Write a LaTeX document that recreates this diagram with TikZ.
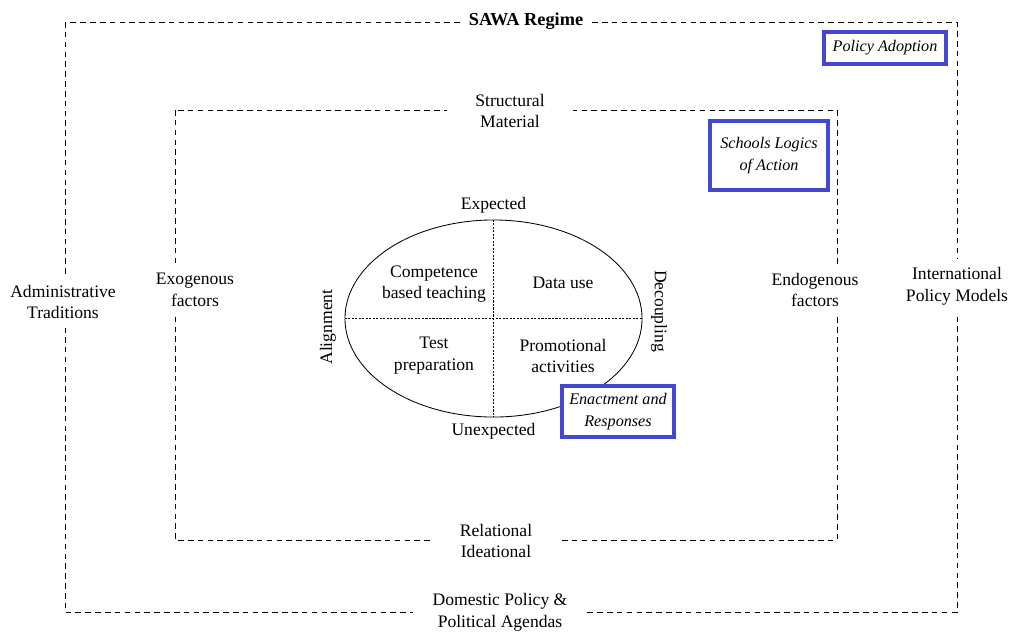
\documentclass[tikz,border=0pt]{standalone}
\usepackage{fontspec}
\setmainfont{Liberation Serif}
\usepackage{xcolor}
\usetikzlibrary{shapes.geometric, positioning}
\definecolor{frameblue}{RGB}{68,72,208}

\begin{document}
\begin{tikzpicture}[
    x=0.025cm, y=-0.025cm,
    font=\fontsize{12.5}{15.5}\selectfont,
    frame/.style={dashed, dash pattern=on 4pt off 3pt, line width=0.6pt},
    split/.style={dash pattern=on 1.5pt off 1pt, line width=0.5pt},
    lbl/.style={fill=white, align=center, inner xsep=6pt, inner ysep=2pt},
    txt/.style={align=center, inner sep=1pt},
    tag/.style={rectangle, draw=frameblue, line width=2.6pt, fill=white, align=center, font=\fontsize{11.5}{15.5}\selectfont\itshape},
]
    \useasboundingbox (0,0) rectangle (1011,633);

    % SAWA regime frame
    \draw[frame] (65,22) rectangle (957,612);
    \node[lbl, font=\fontsize{13}{15.5}\selectfont\bfseries] (sawa) at (526,21) {SAWA Regime};
    \node[lbl, inner xsep=14pt] (domestic) at (500,612) {Domestic Policy \&\\Political Agendas};
    \node[lbl, inner ysep=6pt] (admin) at (63,302) {Administrative\\Traditions};
    \node[lbl, inner ysep=6pt] (intl) at (957,286) {International\\Policy Models};

    % schools frame
    \draw[frame] (175,110) rectangle (837,540);
    \node[lbl, inner xsep=20pt] (structural) at (510,111) {Structural\\Material};
    \node[lbl, inner xsep=20pt] (relational) at (496,541) {Relational\\Ideational};
    \node[lbl, inner ysep=6pt] (exo) at (195,290) {Exogenous\\factors};
    \node[lbl, inner ysep=6pt] (endo) at (815,290) {Endogenous\\factors};

    % responses
    \node[ellipse, draw, line width=0.6pt, minimum width=7.425cm, minimum height=4.925cm] (oval) at (493.5,318.5) {};
    \draw[split] (oval.north) -- (oval.south);
    \draw[split] (oval.west) -- (oval.east);
    \node[txt, above=3pt of oval.north] (expected) {Expected};
    \node[txt, below=3pt of oval.south] (unexpected) {Unexpected};
    \node[txt, rotate=90] (alignment) at (328,327) {Alignment};
    \node[txt, rotate=-90] (decoupling) at (659,311) {Decoupling};

    \node[txt] (competence) at (434,284) {Competence\\based teaching};
    \node[txt] (datause) at (563,283) {Data use};
    \node[txt] (testprep) at (434,356) {Test\\preparation};
    \node[txt] (promo) at (563,356) {Promotional\\activities};

    % levels
    \node[tag, minimum width=3.05cm, minimum height=0.8cm] (adoption) at (885,48) {Policy Adoption};
    \node[tag, minimum width=2.95cm, minimum height=1.725cm] (logics) at (769,155.5) {Schools Logics\\of Action};
    \node[tag, minimum width=2.8cm, minimum height=1.275cm] (enactment) at (618,411.5) {Enactment and\\Responses};
\end{tikzpicture}
\end{document}
